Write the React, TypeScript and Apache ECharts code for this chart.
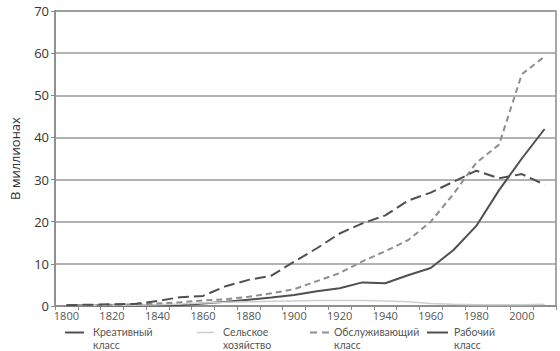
import React, { useEffect, useRef } from "react";
import * as echarts from "echarts";

const years = ["1800","1810","1820","1830","1840","1850","1860","1870","1880","1890","1900","1910","1920","1930","1940","1950","1960","1970","1980","1990","2000","2010"];
const creative = [0.1,0.1,0.1,0.1,0.1,0.2,0.6,1.0,1.5,2.0,2.6,3.5,4.2,5.6,5.4,7.3,9.0,13.3,19.0,27.5,35.0,42.0];
const agriculture = [0.1,0.1,0.2,0.2,0.3,0.5,0.7,0.9,1.0,1.1,1.2,1.3,1.3,1.3,1.2,1.0,0.6,0.4,0.3,0.3,0.3,0.4];
const service = [0.1,0.2,0.3,0.4,0.6,0.9,1.3,1.6,2.2,3.0,4.0,5.9,7.8,10.6,13.0,15.6,20.0,26.6,34.0,38.3,55.0,59.2];
const working = [0.2,0.3,0.4,0.5,1.2,2.1,2.4,4.7,6.2,7.2,10.5,13.7,17.2,19.6,21.5,25.0,26.9,29.5,32.1,30.3,31.3,28.8];
const yTicks = [0, 10, 20, 30, 40, 50, 60, 70];

const DARK = "#505050";
const MID = "#8e8e8e";
const LIGHT = "#cfcfcf";
const FONT = "'Open Sans', 'Noto Sans', sans-serif";
const LFONT = "Lato, 'Open Sans', sans-serif";

export default function App() {
  const ref = useRef<HTMLDivElement>(null);
  useEffect(() => {
    if (!ref.current) return;
    const chart = echarts.init(ref.current, undefined, { renderer: "svg" });
    const legendText = (x: number, y: number, t: string) => ({
      type: "text",
      x,
      y,
      style: { text: t, fill: "#555", font: `10.5px ${LFONT}`, verticalAlign: "middle", align: "left" },
    });
    const legendLine = (x1: number, x2: number, color: string, dash: number[] | null, w: number) => ({
      type: "line",
      shape: { x1, y1: 332.5, x2, y2: 332.5 },
      style: { stroke: color, lineWidth: w, lineDash: dash || undefined },
    });
    chart.setOption({
      animation: false,
      backgroundColor: "#fff",
      grid: { left: 44, right: 4, top: 11, bottom: 45, show: true, borderColor: "#8a8a8a", borderWidth: 1.5, backgroundColor: "transparent" },
      xAxis: {
        type: "category",
        data: years,
        boundaryGap: true,
        axisLine: { lineStyle: { color: "#8a8a8a", width: 1.5 } },
        axisTick: { show: true, interval: 0, alignWithLabel: false, length: 4, lineStyle: { color: "#8a8a8a" } },
        axisLabel: { interval: 1, color: "#555", fontSize: 11, fontFamily: FONT, margin: 4 },
        splitLine: { show: false },
      },
      yAxis: {
        type: "value",
        min: 0,
        max: 70,
        interval: 10,
        name: "В миллионах",
        nameLocation: "middle",
        nameGap: 34,
        nameRotate: 90,
        nameTextStyle: { color: "#333", fontSize: 13, fontFamily: FONT },
        axisLine: { show: true, lineStyle: { color: "#8a8a8a", width: 1.5 } },
        axisTick: { show: true, length: 4, lineStyle: { color: "#8a8a8a" } },
        axisLabel: { color: "#333", fontSize: 13, fontFamily: FONT, margin: 6, formatter: (v: number) => (yTicks.includes(v) ? String(v) : "") },
        splitLine: { show: true, lineStyle: { color: "#9a9a9a", width: 1.5 } },
      },
      series: [
        { name: "Креативный класс", type: "line", data: creative, showSymbol: false, symbol: "none", lineStyle: { color: DARK, width: 2 } },
        { name: "Сельское хозяйство", type: "line", data: agriculture, showSymbol: false, symbol: "none", lineStyle: { color: LIGHT, width: 1.5 } },
        { name: "Обслуживающий класс", type: "line", data: service, showSymbol: false, symbol: "none", lineStyle: { color: MID, width: 2, type: [6, 4] } },
        { name: "Рабочий класс", type: "line", data: working, showSymbol: false, symbol: "none", lineStyle: { color: DARK, width: 2, type: [11, 5] } },
      ],
      graphic: [
        legendLine(65, 84, DARK, null, 2),
        legendText(93, 332.2, "Креативный"),
        legendText(93, 344.8, "класс"),
        legendLine(197, 214, LIGHT, null, 1.5),
        legendText(223, 332.2, "Сельское"),
        legendText(223, 344.8, "хозяйство"),
        legendLine(310, 330, MID, [7, 5], 2),
        legendText(334, 332.2, "Обслуживающий"),
        legendText(334, 344.8, "класс"),
        legendLine(427, 448, DARK, null, 2),
        legendText(454, 332.2, "Рабочий"),
        legendText(454, 344.8, "класс"),
      ],
    });
    return () => chart.dispose();
  }, []);
  return <div ref={ref} style={{ width: 560, height: 351, position: "absolute", left: 0, top: 0 }} />;
}
